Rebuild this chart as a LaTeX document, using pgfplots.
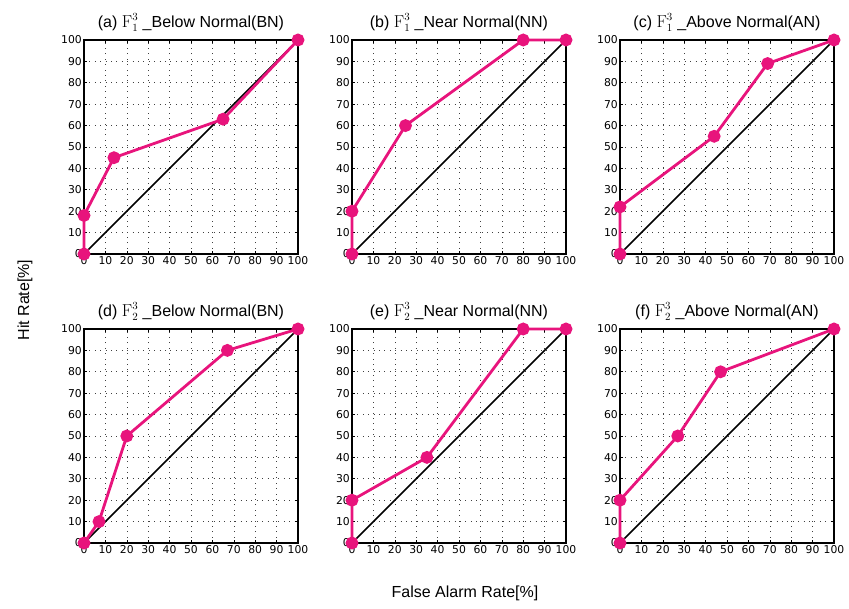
\documentclass[border=0pt]{standalone}
\usepackage{pgfplots}
\pgfplotsset{compat=1.18}
\usepackage[no-math]{fontspec}
\setmainfont{Liberation Sans}
\newfontfamily\tickfont{DejaVu Sans}
\definecolor{roc}{RGB}{232,20,124}
\pgfplotsset{rocax/.style={
 scale only axis, width=214pt, height=214pt,
 xmin=0,xmax=100,ymin=0,ymax=100,
 xtick={0,10,...,100}, ytick={0,10,...,100},
 grid=major, grid style={black!75, dash pattern=on 0.8pt off 4.6pt, line width=0.6pt},
 axis line style={line width=2pt},
 tick style={black, line width=0.6pt}, major tick length=3pt,
 tick align=inside,
 ticklabel style={font=\tickfont\fontsize{10.8}{11}\selectfont, inner sep=1pt},
 xticklabel style={yshift=-1pt},
 yticklabel style={xshift=-1pt},
 /pgf/number format/assume math mode=true,
 title style={font=\fontsize{16}{18}\selectfont, yshift=-1pt},
 clip=false,
}}
\begin{document}
\begin{tikzpicture}
\useasboundingbox (0,0) rectangle (849pt,609pt);
% (a)
\begin{axis}[rocax, at={(84pt,355pt)}, anchor=south west, title={(a) $\mathrm{F}_1^3$ \_Below Normal(BN)}]
\addplot[black, line width=1.6pt] coordinates {(0,0) (100,100)};
\addplot[roc, line width=2.8pt, mark=*, mark size=5pt] coordinates {(0,0) (0,18) (14,45) (65,63) (100,100)};
\end{axis}
% (b)
\begin{axis}[rocax, at={(352pt,355pt)}, anchor=south west, title={(b) $\mathrm{F}_1^3$ \_Near Normal(NN)}]
\addplot[black, line width=1.6pt] coordinates {(0,0) (100,100)};
\addplot[roc, line width=2.8pt, mark=*, mark size=5pt] coordinates {(0,0) (0,20) (25,60) (80,100) (100,100)};
\end{axis}
% (c)
\begin{axis}[rocax, at={(620pt,355pt)}, anchor=south west, title={(c) $\mathrm{F}_1^3$ \_Above Normal(AN)}]
\addplot[black, line width=1.6pt] coordinates {(0,0) (100,100)};
\addplot[roc, line width=2.8pt, mark=*, mark size=5pt] coordinates {(0,0) (0,22) (44,55) (69,89) (100,100)};
\end{axis}
% (d)
\begin{axis}[rocax, at={(84pt,66pt)}, anchor=south west, title={(d) $\mathrm{F}_2^3$ \_Below Normal(BN)}]
\addplot[black, line width=1.6pt] coordinates {(0,0) (100,100)};
\addplot[roc, line width=2.8pt, mark=*, mark size=5pt] coordinates {(0,0) (7,10) (20,50) (67,90) (100,100)};
\end{axis}
% (e)
\begin{axis}[rocax, at={(352pt,66pt)}, anchor=south west, title={(e) $\mathrm{F}_2^3$ \_Near Normal(NN)}]
\addplot[black, line width=1.6pt] coordinates {(0,0) (100,100)};
\addplot[roc, line width=2.8pt, mark=*, mark size=5pt] coordinates {(0,0) (0,20) (35,40) (80,100) (100,100)};
\end{axis}
% (f)
\begin{axis}[rocax, at={(620pt,66pt)}, anchor=south west, title={(f) $\mathrm{F}_2^3$ \_Above Normal(AN)}]
\addplot[black, line width=1.6pt] coordinates {(0,0) (100,100)};
\addplot[roc, line width=2.8pt, mark=*, mark size=5pt] coordinates {(0,0) (0,20) (27,50) (47,80) (100,100)};
\end{axis}
\node[rotate=90, font=\fontsize{16}{18}\selectfont] at (25pt,309pt) {Hit Rate[\%]};
\node[font=\fontsize{16}{18}\selectfont] at (465pt,16pt) {False Alarm Rate[\%]};
\end{tikzpicture}
\end{document}
